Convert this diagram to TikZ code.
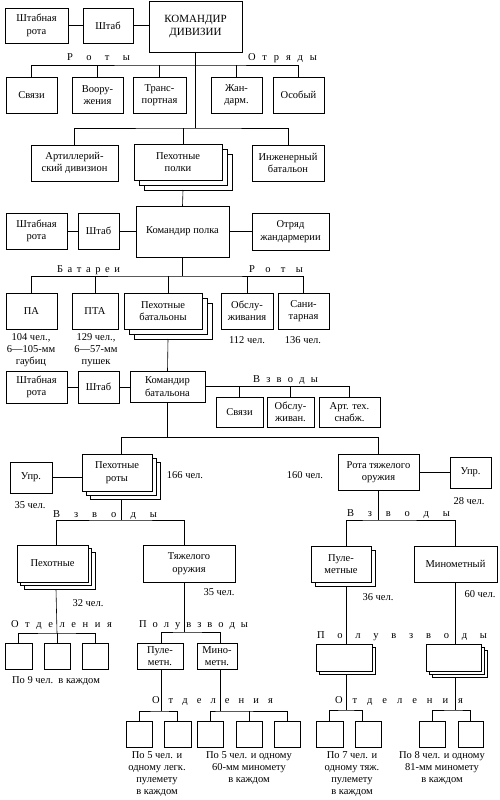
\documentclass[tikz,border=0pt]{standalone}
\usepackage{fontspec}
\setmainfont{Liberation Serif}
\tikzset{
  box/.style={draw, fill=white, line width=0.6pt, inner sep=0pt, outer sep=0pt, align=center, font=\fontsize{10.5}{12.5}\selectfont},
  backrect/.style={draw, fill=white, line width=0.6pt},
  txt/.style={inner sep=0pt, outer sep=0pt, align=center, font=\fontsize{10.5}{12}\selectfont},
  conn/.style={line width=0.6pt},
}
\newcommand\mybox[7][]{\node[box,minimum width={(#5-#3)*1pt},minimum height={(#6-#4)*1pt},#1] (#2) at ({(#3+#5)/2},{(#4+#6)/2}) {#7};}
\newcommand\backbox[5]{\draw[backrect] ({#1+#5},{#2+#5}) rectangle ({#3+#5},{#4+#5});}
\newcommand\spr[2]{\makebox[#1pt][s]{#2}}
\begin{document}
\begin{tikzpicture}[x=1pt,y=-1pt]
\fill[white] (0,0) rectangle (499,800);
\useasboundingbox (0,0) rectangle (499,800);
% ---------- Division level
\mybox{sr1}{5}{8}{68}{43}{Штабная\\рота}
\mybox{sh1}{83}{8}{133}{43}{Штаб}
\mybox[font=\fontsize{11}{13}\selectfont]{kd}{149}{1}{242}{52}{КОМАНДИР\\ДИВИЗИИ}
\draw[conn] (sr1.east) -- (sh1.west);
\draw[conn] (sh1.east) -- (sh1.east -| kd.west);
\node[txt,anchor=base] (l1) at (98.5,60) {\spr{63}{Р\hfill о\hfill т\hfill ы}};
\node[txt,anchor=base] (l2) at (282.5,60) {\spr{69}{О\hfill т\hfill р\hfill я\hfill д\hfill ы}};
\mybox{svz}{6}{77}{57}{113}{Связи}
\mybox{voor}{72}{77}{123}{113}{Воору-\\жения}
\mybox{tr}{133}{77}{186}{113}{Транс-\\портная}
\mybox{zh}{211}{77}{262}{113}{Жан-\\дарм.}
\mybox{osob}{273}{77}{324}{113}{Особый}
\coordinate (b1) at (195.5,65);
\coordinate (b2) at (195.5,128);
\draw[conn] (kd.south) -- (b2);
\draw[conn] (svz.north) |- (b1) -| (osob.north);
\draw[conn] (voor.north) -- (voor.north |- b1);
\draw[conn] (tr.north) -- (tr.north |- b1);
\draw[conn] (zh.north) -- (zh.north |- b1);
\mybox{art}{31}{145}{118}{181}{Артиллерий-\\ский дивизион}
\backbox{134}{144}{222}{180}{10}
\backbox{134}{144}{222}{180}{5}
\mybox{pp}{134}{144}{222}{180}{Пехотные\\полки}
\mybox{ing}{252}{145}{324}{181}{Инженерный\\батальон}
\draw[conn] (art.north) |- (b2) -| (ing.north);
\draw[conn] ([xshift=5pt]pp.north) -- ([xshift=5pt]pp.north |- b2);
% ---------- Regiment level
\mybox{sr2}{6}{213}{67}{249}{Штабная\\рота}
\mybox{sh2}{78}{213}{119}{249}{Штаб}
\mybox{kp}{136}{206}{229}{257}{Командир полка}
\mybox{ozh}{252}{213}{329}{250}{Отряд\\жандармерии}
\draw[conn] ([xshift=5pt,yshift=-10pt]pp.south) -- (kp.north);
\draw[conn] (sr2.east) -- (sh2.west);
\draw[conn] (sh2.east) -- (sh2.east -| kp.west);
\draw[conn] (kp.east) -- (kp.east -| ozh.west);
\node[txt,anchor=base] (l3) at (88.5,272) {\spr{63}{Б\hfill а\hfill т\hfill а\hfill р\hfill е\hfill и}};
\node[txt,anchor=base] (l4) at (276,272) {\spr{54}{Р\hfill о\hfill т\hfill ы}};
\mybox{pa}{6}{293}{57}{329}{ПА}
\mybox{pta}{72}{293}{118}{329}{ПТА}
\backbox{124}{293}{202}{329}{10}
\backbox{124}{293}{202}{329}{5}
\mybox{pb}{124}{293}{202}{329}{Пехотные\\батальоны}
\mybox{obs}{221}{293}{273}{329}{Обслу-\\живания}
\mybox{san}{278}{293}{329}{329}{Сани-\\тарная}
\coordinate (b3) at (182.5,276);
\draw[conn] (kp.south) -- (b3);
\draw[conn] (pa.north) |- (b3) -| (san.north);
\draw[conn] (pta.north) -- (pta.north |- b3);
\draw[conn] ([xshift=5pt]pb.north) -- ([xshift=5pt]pb.north |- b3);
\draw[conn] (obs.north) -- (obs.north |- b3);
\node[txt,anchor=north] (n1) at (31,334) {104 чел.,\\6—105-мм\\гаубиц};
\node[txt,anchor=north] (n2) at (96,334) {129 чел.,\\6—57-мм\\пушек};
\node[txt,anchor=base] (n3) at (247,343) {112 чел.};
\node[txt,anchor=base] (n4) at (303,343) {136 чел.};
% ---------- Battalion level
\mybox{sr3}{6}{371}{67}{403}{Штабная\\рота}
\mybox{sh3}{78}{371}{119}{403}{Штаб}
\mybox{kb}{130}{371}{205}{402}{Командир\\батальона}
\draw[conn] ([xshift=5pt,yshift=-10pt]pb.south) -- (kb.north);
\draw[conn] (sr3.east) -- (sh3.west);
\draw[conn] (sh3.east) -- (sh3.east -| kb.west);
\node[txt,anchor=base] (l5) at (285.5,382) {\spr{65}{В\hfill з\hfill в\hfill о\hfill д\hfill ы}};
\mybox{svz2}{216}{397}{263}{427}{Связи}
\mybox{obs2}{267}{397}{314}{427}{Обслу-\\живан.}
\mybox{ats}{319}{397}{380}{427}{Арт. тех.\\снабж.}
\draw[conn] (kb.east) -| (ats.north);
\draw[conn] (svz2.north) -- (svz2.north |- kb.east);
\draw[conn] (obs2.north) -- (obs2.north |- kb.east);
% ---------- Companies
\coordinate (b4) at (167.5,437);
\draw[conn] (kb.south) -- (b4);
\backbox{82}{454}{152}{491}{8}
\backbox{82}{454}{152}{491}{4}
\mybox{pr}{82}{454}{152}{491}{Пехотные\\роты}
\mybox{upr1}{10}{462}{52}{493}{Упр.}
\mybox{rto}{338}{454}{419}{490}{Рота тяжелого\\оружия}
\mybox{upr2}{450}{457}{491}{488}{Упр.}
\draw[conn] ([xshift=4pt]pr.north) |- (b4);
\draw[conn] (rto.north) |- (b4);
\draw[conn] (upr1.east) -- (upr1.east -| pr.west);
\draw[conn] (rto.east) -- (rto.east -| upr2.west);
\node[txt,anchor=base] (n5) at (185,478) {166 чел.};
\node[txt,anchor=base] (n6) at (30,508) {35 чел.};
\node[txt,anchor=base] (n7) at (305,478) {160 чел.};
\node[txt,anchor=base] (n8) at (469,504) {28 чел.};
% ---------- Platoons left
\node[txt,anchor=base] (l6) at (105,517) {\spr{104}{В\hfill з\hfill в\hfill о\hfill д\hfill ы}};
\coordinate (b5) at (121,520);
\draw[conn] ([xshift=4pt,yshift=-8pt]pr.south) -- (b5);
\backbox{17}{545}{88}{582}{7}
\backbox{17}{545}{88}{582}{3.5}
\mybox{pl}{17}{545}{88}{582}{Пехотные}
\mybox{tyo}{143}{545}{235}{582}{Тяжелого\\оружия}
\draw[conn] ([xshift=3.5pt]pl.north) |- (b5) -| ([xshift=-5pt]tyo.north);
\node[txt,anchor=base] (n9) at (88,606) {32 чел.};
\node[txt,anchor=base] (n10) at (219,595) {35 чел.};
% ---------- Platoons right
\node[txt,anchor=base] (l7) at (398.5,516) {\spr{103}{В\hfill з\hfill в\hfill о\hfill д\hfill ы}};
\coordinate (b6) at (378.5,520);
\draw[conn] (rto.south) -- (b6);
\backbox{311}{546}{371}{582}{4}
\mybox{pul}{311}{546}{371}{582}{Пуле-\\метные}
\mybox{min}{414}{546}{497}{582}{Минометный}
\draw[conn] ([xshift=5.5pt]pul.north) |- (b6) -| (min.north);
\node[txt,anchor=base] (n11) at (378,600) {36 чел.};
\node[txt,anchor=base] (n12) at (480,597) {60 чел.};
% ---------- Sections left (infantry platoon)
\node[txt,anchor=base] (l8) at (61.5,627) {\spr{101}{О\hfill т\hfill д\hfill е\hfill л\hfill е\hfill н\hfill и\hfill я}};
\coordinate (b7) at (57,633);
\draw[conn] ([xshift=3.5pt,yshift=-7pt]pl.south) -- (b7);
\mybox{o1}{5}{643}{32}{669}{}
\mybox{o2}{44}{643}{70}{669}{}
\mybox{o3}{82}{643}{108}{669}{}
\draw[conn] (o1.north) |- (b7) -| (o3.north);
\draw[conn] (o2.north) -- (o2.north |- b7);
\node[txt,anchor=base] (n13) at (56,683) {По 9 чел.\ \ в каждом};
% ---------- Heavy weapons platoon (left)
\node[txt,anchor=base] (l9) at (193.5,627) {\spr{109}{П\hfill о\hfill л\hfill у\hfill в\hfill з\hfill в\hfill о\hfill д\hfill ы}};
\coordinate (b8) at (184,632);
\draw[conn] ([xshift=-5pt]tyo.south) -- (b8);
\mybox{pm}{137}{643}{183}{669}{Пуле-\\метн.}
\mybox{mm}{197}{643}{237}{669}{Мино-\\метн.}
\draw[conn] ([xshift=1pt]pm.north) |- (b8) -| ([xshift=3pt]mm.north);
\node[txt,anchor=base] (l10) at (212.5,703) {\spr{121}{О\hfill т\hfill д\hfill е\hfill л\hfill е\hfill н\hfill и\hfill я}};
\coordinate (b9) at (161,711);
\coordinate (b10) at (220,711);
\draw[conn] ([xshift=1pt]pm.south) -- (b9);
\draw[conn] ([xshift=3pt]mm.south) -- (b10);
\mybox{q1}{126}{721}{152}{747}{}
\mybox{q2}{164}{721}{191}{747}{}
\mybox{q3}{197}{721}{223}{747}{}
\mybox{q4}{236}{721}{262}{747}{}
\mybox{q5}{274}{721}{300}{747}{}
\draw[conn] (q1.north) |- (b9) -| (q2.north);
\draw[conn] (q3.north) |- (b10) -| (q5.north);
\draw[conn] (q4.north) -- (q4.north |- b10);
\node[txt,anchor=north] (n14) at (157,752) {По 5 чел. и\\одному легк.\\пулемету\\в каждом};
\node[txt,anchor=north] (n15) at (249,752) {По 5 чел. и одному\\60-мм миномету\\в каждом};
% ---------- Heavy company half-platoons (right)
\node[txt,anchor=base] (l11) at (402,638) {\spr{170}{П\hfill о\hfill л\hfill у\hfill в\hfill з\hfill в\hfill о\hfill д\hfill ы}};
\backbox{316}{644}{372}{671}{3}
\mybox{pv1}{316}{644}{372}{671}{}
\backbox{426}{644}{481}{671}{6}
\backbox{426}{644}{481}{671}{3}
\mybox{pv2}{426}{644}{481}{671}{}
\draw[conn] ([xshift=5.5pt,yshift=-4pt]pul.south) -- ([xshift=2.5pt]pv1.north);
\draw[conn] (min.south) -- (min.south |- pv2.north);
\node[txt,anchor=base] (l12) at (399,703) {\spr{128}{О\hfill т\hfill д\hfill е\hfill л\hfill е\hfill н\hfill и\hfill я}};
\coordinate (b11) at (346.5,710);
\coordinate (b12) at (455.5,710);
\draw[conn] ([xshift=2.5pt,yshift=-3pt]pv1.south) -- (b11);
\draw[conn] ([xshift=2pt,yshift=-6pt]pv2.south) -- (b12);
\mybox{r1}{316}{721}{343}{747}{}
\mybox{r2}{355}{721}{381}{747}{}
\mybox{r3}{419}{721}{445}{747}{}
\mybox{r4}{458}{721}{483}{747}{}
\draw[conn] (r1.north) |- (b11) -| ([xshift=-6pt]r2.north);
\draw[conn] (r3.north) |- (b12) -| (r4.north);
\node[txt,anchor=north] (n16) at (352,752) {По 7 чел. и\\одному тяж.\\пулемету\\в каждом};
\node[txt,anchor=north] (n17) at (442,752) {По 8 чел. и одному\\81-мм миномету\\в каждом};
\end{tikzpicture}
\end{document}
